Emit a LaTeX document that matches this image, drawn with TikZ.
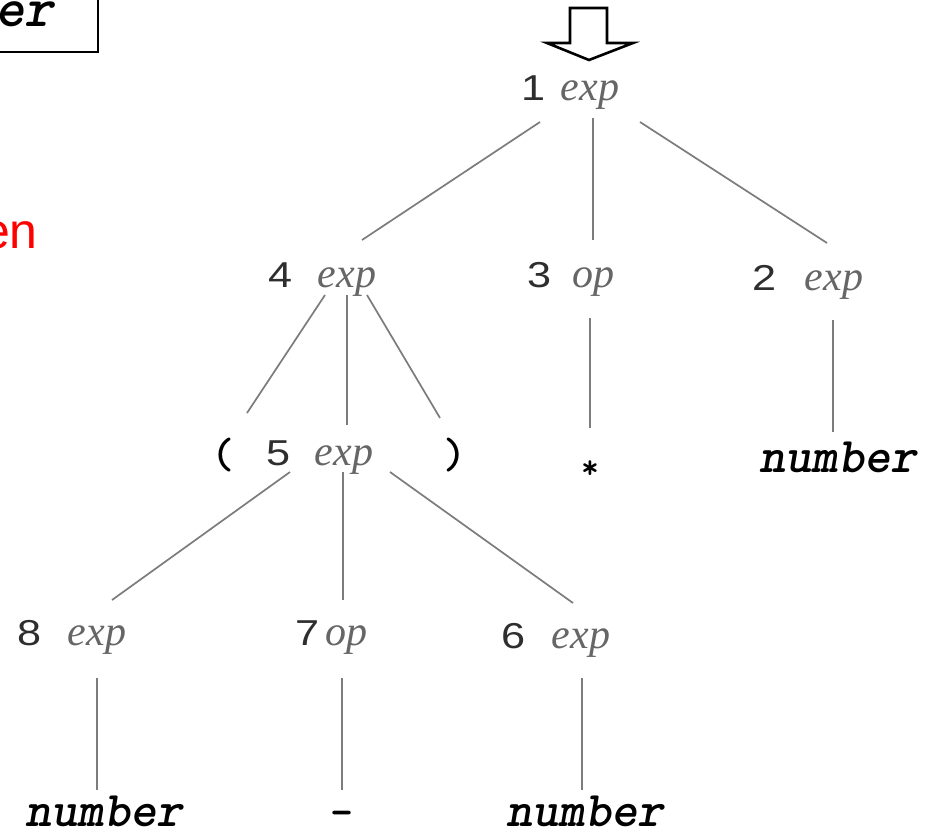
\documentclass[tikz,border=0pt]{standalone}
\usepackage{fontspec}
\setmainfont{Liberation Serif}
\newfontfamily\digfont{Liberation Sans}
\definecolor{treeGray}{HTML}{7C7C7C}
\definecolor{wordGray}{HTML}{666666}
\definecolor{digitDark}{HTML}{2E2E2E}
\newcommand{\wide}[1]{\scalebox{1.2}[1]{#1}}
\tikzset{
  digit/.style={anchor=base west, inner sep=0pt, text=digitDark, font=\digfont\fontsize{36}{42}\selectfont},
  word/.style={anchor=base, inner sep=0pt, text=wordGray, font=\fontsize{42}{48}\selectfont\itshape},
  token/.style={anchor=base, inner sep=0pt, text=black, font=\ttfamily\bfseries\slshape\fontsize{50}{56}\selectfont},
  punct/.style={anchor=base, inner sep=0pt, text=black, font=\ttfamily\bfseries\fontsize{44}{50}\selectfont},
  edge/.style={draw=treeGray, line width=1.7pt},
}
\begin{document}
\begin{tikzpicture}[x=1pt, y=-1pt]
  \useasboundingbox (0,0) rectangle (934,835);
  \clip (0,0) rectangle (934,835);
  \fill[white] (0,0) rectangle (934,835);

  % cut-off box and hint at the left border
  \draw[line width=2pt] (-20,-20) rectangle (98,52);
  \node[token, anchor=base east, font=\ttfamily\bfseries\slshape\fontsize{56}{60}\selectfont] (cut) at (54,26) {er};
  \node[anchor=base west, inner sep=0pt, text=red, font=\digfont\fontsize{50}{56}\selectfont] (hint) at (-18,248) {en};

  % start arrow
  \draw[line width=2.6pt, line join=miter] (570,8) -- (607,8) -- (607,43) -- (633,43) -- (589,60) -- (547,43) -- (570,43) -- cycle;

  % level 1
  \node[digit] (d1) at (521,100) {\wide{1}};
  \node[word] (e1) at (590,100) {exp};

  % level 2
  \node[digit] (d4) at (268,287) {\wide{4}};
  \node[word] (e4) at (347,287) {exp};
  \node[digit] (d3) at (527,287) {\wide{3}};
  \node[word] (e3) at (593,287) {op};
  \node[digit] (d2) at (752,290) {\wide{2}};
  \node[word] (e2) at (834,290) {exp};

  % level 3
  \node[punct] (lp) at (223,468) {(};
  \node[digit] (d5) at (266,465) {\wide{5}};
  \node[word] (e5) at (344,465) {exp};
  \node[punct] (rp) at (455,468) {)};
  \node[punct, font=\ttfamily\bfseries\fontsize{34}{40}\selectfont] (st) at (590,478) {*};
  \node[token] (nr) at (838,472) {number};

  % level 4
  \node[digit] (d8) at (17,645) {\wide{8}};
  \node[word] (e8) at (97,645) {exp};
  \node[digit] (d7) at (295,645) {\wide{7}};
  \node[word] (e7) at (346,645) {op};
  \node[digit] (d6) at (501,648) {\wide{6}};
  \node[word] (e6) at (581,648) {exp};

  % leaves
  \node[token] (l8) at (104,826) {number};
  \node[punct] (l7) at (342,826) {-};
  \node[token] (l6) at (585,826) {number};

  % tree edges
  \draw[edge] ([shift={(-50,22)}]e1.base) -- ([shift={(15,-47)}]e4.base);
  \draw[edge] ([shift={(3,18)}]e1.base) -- ([shift={(0,-47)}]e3.base);
  \draw[edge] ([shift={(50,22)}]e1.base) -- ([shift={(-7,-47)}]e2.base);
  \draw[edge] ([shift={(-22,8)}]e4.base) -- ([shift={(24,-55)}]lp.base);
  \draw[edge] ([shift={(0,8)}]e4.base) -- ([shift={(3,-40)}]e5.base);
  \draw[edge] ([shift={(20,8)}]e4.base) -- ([shift={(-15,-50)}]rp.base);
  \draw[edge] ([shift={(-3,31)}]e3.base) -- ([shift={(0,-50)}]st.base);
  \draw[edge] ([shift={(-1,30)}]e2.base) -- ([shift={(-5,-40)}]nr.base);
  \draw[edge] ([shift={(-54,7)}]e5.base) -- ([shift={(15,-45)}]e8.base);
  \draw[edge] ([shift={(-1,7)}]e5.base) -- ([shift={(-3,-45)}]e7.base);
  \draw[edge] ([shift={(46,7)}]e5.base) -- ([shift={(-8,-45)}]e6.base);
  \draw[edge] ([shift={(0,33)}]e8.base) -- ([shift={(-7,-36)}]l8.base);
  \draw[edge] ([shift={(-4,33)}]e7.base) -- ([shift={(0,-36)}]l7.base);
  \draw[edge] ([shift={(1,30)}]e6.base) -- ([shift={(-3,-36)}]l6.base);
\end{tikzpicture}
\end{document}
